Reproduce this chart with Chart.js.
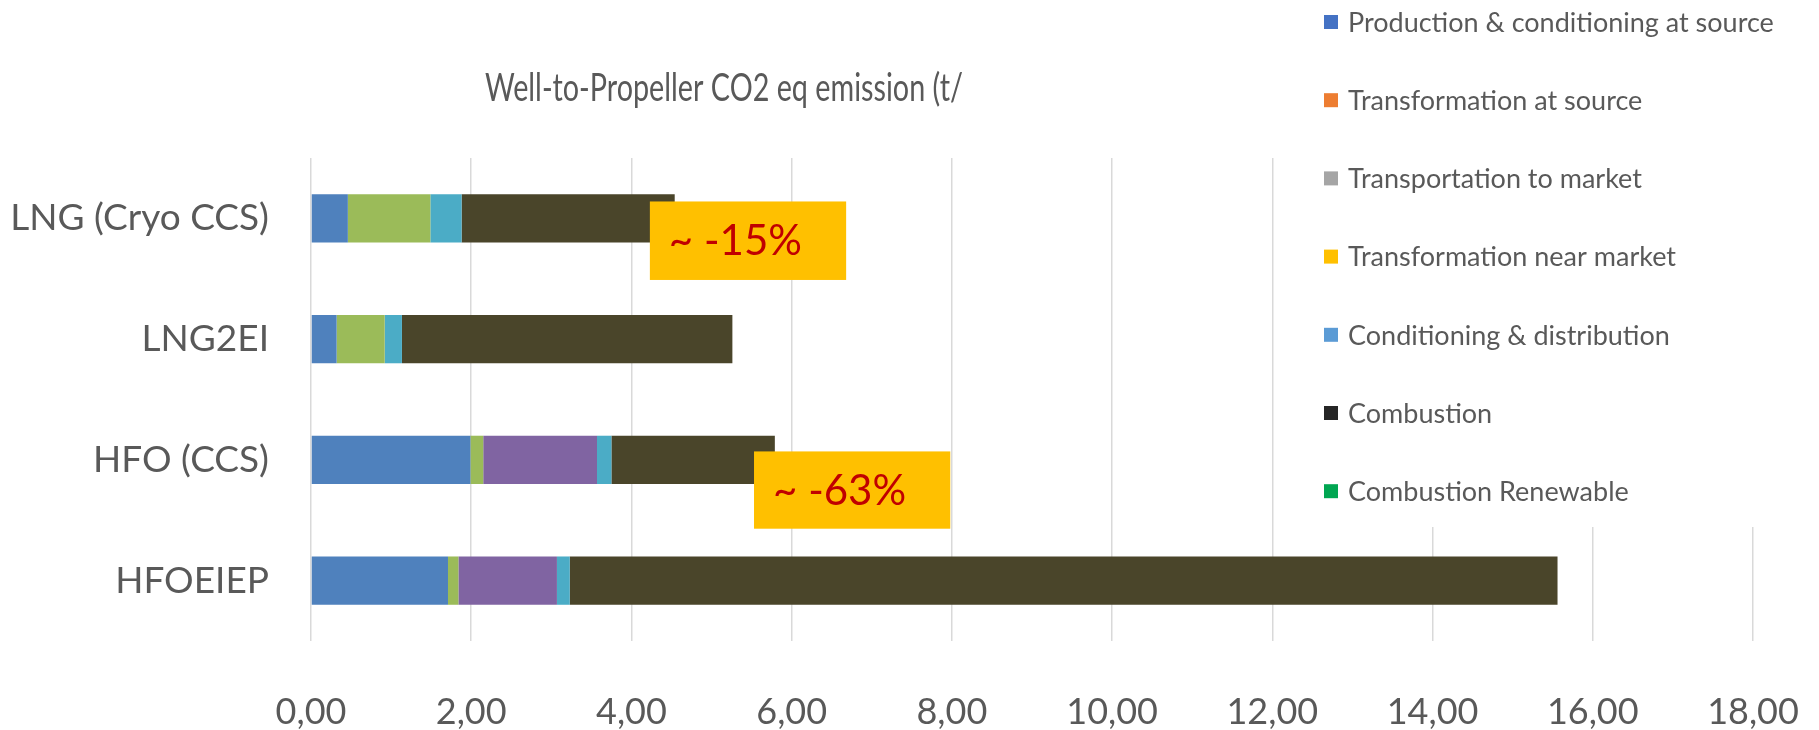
<!DOCTYPE html>
<html>
<head>
<meta charset="utf-8">
<script src="https://cdn.jsdelivr.net/npm/chart.js@4"></script>
<style>
  html, body { margin: 0; padding: 0; background: #fff; }
  #wrap { width: 1819px; height: 730px; position: relative; }
</style>
</head>
<body>
<div id="wrap"><canvas id="wtpChart"></canvas></div>
<script>
// Well-to-Propeller emissions, t CO2 eq
const categories = ['LNG (Cryo CCS)', 'LNG2EI', 'HFO (CCS)', 'HFOEIEP'];
const seriesNames = [
    'Production & conditioning at source',
    'Transformation at source',
    'Transportation to market',
    'Transformation near market',
    'Conditioning & distribution',
    'Combustion',
    'Combustion Renewable'
];
const production = [0.46, 0.32, 1.99, 1.71];
const transformationAtSource = [0, 0, 0, 0];
const transportation = [1.03, 0.60, 0.16, 0.13];
const transformationNearMarket = [0, 0, 1.42, 1.23];
const conditioning = [0.39, 0.215, 0.18, 0.16];
const combustion = [2.66, 4.125, 2.04, 12.33];
const combustionRenewable = [0, 0, 0, 0];
const xTickLabels = ['0,00', '2,00', '4,00', '6,00', '8,00', '10,00', '12,00', '14,00', '16,00', '18,00'];
const calloutTexts = ['~ -15%', '~ -63%'];

const barColors = ['#4F81BD', '#C0504D', '#9BBB59', '#8064A2', '#4BACC6', '#4A452A', '#F79646'];
const legendColors = ['#4472C4', '#ED7D31', '#A5A5A5', '#FFC000', '#5B9BD5', '#262626', '#00A651'];
const seriesData = [production, transformationAtSource, transportation, transformationNearMarket,
    conditioning, combustion, combustionRenewable];

// callout boxes in axis units: x values, y as category index
const calloutBoxes = [
    { x0: 4.23, x1: 6.68, y0: -0.14, y1: 0.51 },
    { x0: 5.53, x1: 7.98, y0: 1.93, y1: 2.57 }
];

const FONT = 'Lato, "Open Sans", sans-serif';
const GREY = '#595959';

const overlays = {
    id: 'overlays',
    afterDatasetsDraw(chart) {
        const ctx = chart.ctx;
        const xs = chart.scales.x, ys = chart.scales.y;
        ctx.save();
        calloutBoxes.forEach((b, i) => {
            const l = xs.getPixelForValue(b.x0), r = xs.getPixelForValue(b.x1);
            const t = ys.getPixelForValue(b.y0), btm = ys.getPixelForValue(b.y1);
            ctx.fillStyle = '#FFC000';
            ctx.fillRect(l, t, r - l, btm - t);
            ctx.fillStyle = '#C00000';
            ctx.font = '42px ' + FONT;
            ctx.textAlign = 'left';
            ctx.textBaseline = 'middle';
            ctx.fillText(calloutTexts[i], l + 19, (t + btm) / 2 + 1);
        });
        ctx.restore();
    },
    afterDraw(chart) {
        const ctx = chart.ctx;
        ctx.save();
        // title, squeezed into its box
        const title = 'Well-to-Propeller CO2 eq emission (t/';
        ctx.fillStyle = GREY;
        ctx.font = '38px ' + FONT;
        ctx.textAlign = 'left';
        ctx.textBaseline = 'middle';
        const sx = 478 / ctx.measureText(title).width;
        ctx.save();
        ctx.translate(485, 89);
        ctx.scale(sx, 1);
        ctx.fillText(title, 0, 0);
        ctx.restore();
        // legend panel sits over the top right of the plot
        ctx.fillStyle = '#fff';
        ctx.fillRect(1300, 0, chart.width - 1300, 527);
        ctx.font = '27px ' + FONT;
        chart.data.datasets.forEach((ds, i) => {
            const cy = 22 + i * 78.2;
            ctx.fillStyle = legendColors[i];
            ctx.fillRect(1324, cy - 7, 14, 14);
            ctx.fillStyle = GREY;
            ctx.fillText(ds.label, 1348, cy + 1);
        });
        ctx.restore();
    }
};

const ctx = document.getElementById('wtpChart').getContext('2d');
new Chart(ctx, {
    type: 'bar',
    data: {
        labels: categories,
        datasets: seriesNames.map((name, i) => ({
            label: name,
            data: seriesData[i],
            backgroundColor: barColors[i],
            borderWidth: 0,
            barPercentage: 0.4,
            categoryPercentage: 1
        }))
    },
    options: {
        indexAxis: 'y',
        responsive: true,
        maintainAspectRatio: false,
        animation: false,
        layout: {
            padding: { top: 158, right: 66, left: 0, bottom: 0 }
        },
        plugins: {
            title: { display: false },
            legend: { display: false },
            tooltip: { enabled: false }
        },
        scales: {
            x: {
                stacked: true,
                min: 0,
                max: 18,
                afterFit: (s) => {
                    s.height = 89;
                    s.paddingLeft = 0;
                    s.paddingRight = 0;
                },
                ticks: {
                    stepSize: 2,
                    padding: 50,
                    maxRotation: 0,
                    autoSkip: false,
                    color: GREY,
                    font: { family: FONT, size: 36 },
                    callback: (v, i) => xTickLabels[i]
                },
                grid: {
                    color: '#D9D9D9',
                    lineWidth: 1.5,
                    drawTicks: false
                },
                border: { display: false }
            },
            y: {
                stacked: true,
                afterFit: (s) => { s.width = 311; },
                ticks: {
                    padding: 34,
                    color: GREY,
                    font: { family: FONT, size: 37 }
                },
                grid: { display: false },
                border: { display: false }
            }
        }
    },
    plugins: [overlays]
});
</script>
</body>
</html>
